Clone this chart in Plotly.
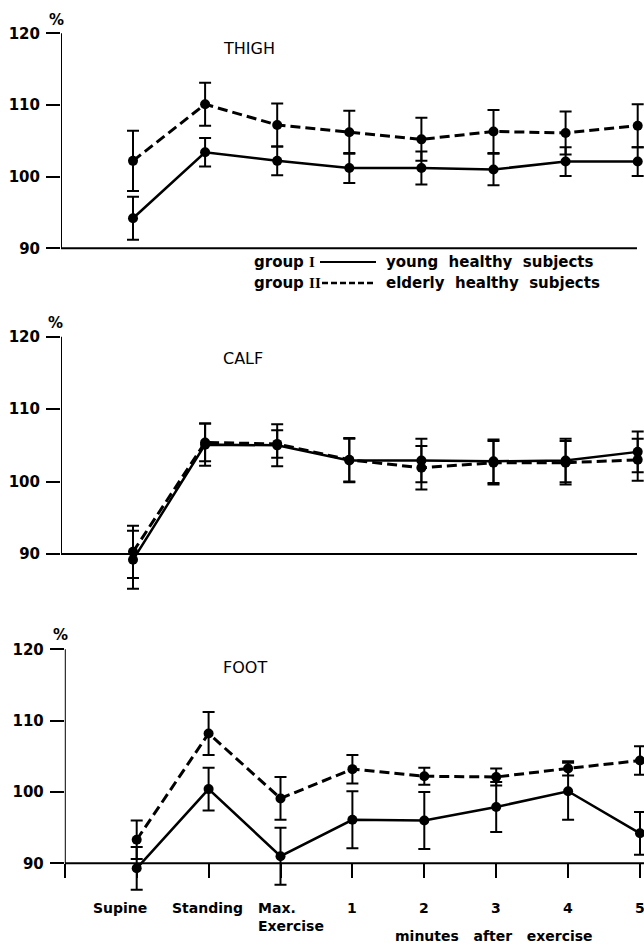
import plotly.graph_objects as go

# ---------------- data ----------------
categories = ["Supine", "Standing", "Max.<br>Exercise", "1", "2", "3", "4", "5"]
cat_index = [0, 1, 2, 3, 4, 5, 6, 7]
y_ticks = [90, 100, 110, 120]
y_ticklabels = ["90", "100", "110", "120"]
panel_titles = ["THIGH", "CALF", "FOOT"]

thigh_young = [94.2, 103.4, 102.2, 101.2, 101.2, 101.0, 102.1, 102.1]
thigh_young_err = [3.0, 2.0, 2.0, 2.1, 2.3, 2.2, 2.0, 2.0]
thigh_elderly = [102.2, 110.1, 107.2, 106.2, 105.2, 106.3, 106.1, 107.1]
thigh_elderly_err = [4.2, 3.0, 3.0, 3.0, 3.0, 3.0, 3.0, 3.0]

calf_young = [89.2, 105.1, 105.0, 102.9, 102.9, 102.8, 102.9, 104.1]
calf_young_err = [4.0, 2.9, 2.9, 3.0, 3.0, 3.0, 3.0, 2.8]
calf_elderly = [90.3, 105.4, 105.2, 103.0, 101.9, 102.6, 102.6, 103.0]
calf_elderly_err = [3.6, 2.6, 1.9, 3.0, 3.0, 3.0, 3.0, 2.9]

foot_young = [89.3, 100.4, 91.0, 96.1, 96.0, 97.9, 100.1, 94.2]
foot_young_err = [3.0, 3.0, 4.0, 4.0, 4.0, 3.5, 4.0, 3.0]
foot_elderly = [93.3, 108.2, 99.1, 103.2, 102.2, 102.1, 103.3, 104.4]
foot_elderly_err = [2.7, 3.0, 3.0, 2.0, 1.2, 1.2, 1.0, 2.0]

series = [
    (thigh_young, thigh_young_err, thigh_elderly, thigh_elderly_err),
    (calf_young, calf_young_err, calf_elderly, calf_elderly_err),
    (foot_young, foot_young_err, foot_elderly, foot_elderly_err),
]

# ---------------- layout geometry (page pixels) ----------------
W, H = 644, 946
FONT = "DejaVu Sans"
p120 = [33.3, 336.7, 649.3]
p90 = [248.3, 554.0, 863.3]
x_axis_px = [61.0, 61.0, 64.8]
cat0_px = [133.0, 133.0, 136.7]
cat_step = [72.1, 72.1, 71.9]
YLO, YHI = 83, 121


def fx(px):
    return px / W


def fy(py):
    return 1 - py / H


def tfont(size, weight="normal"):
    return dict(size=size, family=FONT, color="black", weight=weight)


fig = go.Figure()
layout = dict(
    width=W, height=H, margin=dict(l=0, r=0, t=0, b=0, autoexpand=False),
    paper_bgcolor="white", plot_bgcolor="white", showlegend=False,
    font=dict(family=FONT, color="black", size=15),
)
shapes = []
annotations = []

for p in range(3):
    n = "" if p == 0 else str(p + 1)
    xa, ya = "x" + n, "y" + n
    yg, yg_err, eg, eg_err = series[p]
    fig.add_trace(go.Scatter(
        x=cat_index, y=eg, xaxis=xa, yaxis=ya, mode="lines+markers",
        line=dict(color="black", width=3, dash="10px,5px"),
        marker=dict(color="black", size=10),
        error_y=dict(type="data", array=eg_err, color="black", thickness=2, width=6),
    ))
    fig.add_trace(go.Scatter(
        x=cat_index, y=yg, xaxis=xa, yaxis=ya, mode="lines+markers",
        line=dict(color="black", width=2.5),
        marker=dict(color="black", size=10),
        error_y=dict(type="data", array=yg_err, color="black", thickness=2, width=6),
    ))

    s = (p90[p] - p120[p]) / 30.0
    top_px = p120[p] - (YHI - 120) * s
    bot_px = p90[p] + (90 - YLO) * s
    xr1 = (W - cat0_px[p]) / cat_step[p]
    xr0 = (x_axis_px[p] - cat0_px[p]) / cat_step[p]

    xaxis = dict(domain=[fx(x_axis_px[p]), 1], range=[xr0, xr1], showgrid=False,
                 zeroline=False, showline=False, showticklabels=False, ticks="",
                 fixedrange=True, automargin=False)
    if p == 2:
        xaxis.update(anchor="free", position=fy(p90[p]), ticks="outside",
                     tickvals=[xr0] + cat_index, ticklen=14, tickwidth=2, tickcolor="black")
    else:
        xaxis.update(anchor=ya)
    yaxis = dict(domain=[fy(bot_px), fy(top_px)], range=[YLO, YHI], anchor=xa,
                 showgrid=False, zeroline=False, showline=False,
                 tickvals=y_ticks, ticktext=y_ticklabels, ticks="outside",
                 ticklen=14, tickwidth=2, tickcolor="black", automargin=False,
                 ticklabelstandoff=3, tickfont=tfont(15, "bold"), fixedrange=True)
    layout["xaxis" + n] = xaxis
    layout["yaxis" + n] = yaxis

    # axis lines
    shapes.append(dict(type="line", xref=xa, yref=ya, x0=xr0, x1=xr0, y0=90, y1=120,
                       line=dict(color="black", width=2)))
    x_end = 6.99 if p < 2 else xr1
    shapes.append(dict(type="line", xref=xa, yref=ya, x0=xr0, x1=x_end, y0=90, y1=90,
                       line=dict(color="black", width=2)))
    # % sign
    pct_pos = [(56, 20), (55, 323), (60, 635)][p]
    annotations.append(dict(xref="paper", yref="paper", x=fx(pct_pos[0]),
                            y=fy(pct_pos[1]), text="%", showarrow=False,
                            font=tfont(15, "bold"), xanchor="center", yanchor="middle"))
    # panel title
    title_pos = [(249, 48), (243, 358), (245, 667)][p]
    annotations.append(dict(xref="paper", yref="paper", x=fx(title_pos[0]), y=fy(title_pos[1]),
                            text=panel_titles[p], showarrow=False, font=tfont(16),
                            xanchor="center", yanchor="middle"))

# x category labels on foot panel
label_shift = [-17, -1, 10, 0, 0, 0, 0, 0]
for i, lab in enumerate(categories):
    annotations.append(dict(xref="x3", yref="paper", x=cat_index[i], y=fy(898),
                            text=lab, showarrow=False, xshift=label_shift[i],
                            xanchor="center", yanchor="top", align="left",
                            font=tfont(14, "bold")))
annotations.append(dict(xref="paper", yref="paper", x=fx(494), y=fy(936),
                        text="minutes   after   exercise", showarrow=False,
                        xanchor="center", yanchor="middle", font=tfont(14, "bold")))

# legend (drawn as text + line samples)
serif = "<span style='font-family:Liberation Serif'>"
annotations.append(dict(xref="paper", yref="paper", x=fx(252), y=fy(262),
                        text="group " + serif + "I</span>", showarrow=False,
                        xanchor="left", yanchor="middle", font=tfont(15, "bold")))
annotations.append(dict(xref="paper", yref="paper", x=fx(252), y=fy(283),
                        text="group " + serif + "II</span>", showarrow=False,
                        xanchor="left", yanchor="middle", font=tfont(15, "bold")))
annotations.append(dict(xref="paper", yref="paper", x=fx(384), y=fy(262),
                        text="young  healthy  subjects", showarrow=False,
                        xanchor="left", yanchor="middle", font=tfont(15, "bold")))
annotations.append(dict(xref="paper", yref="paper", x=fx(384), y=fy(283),
                        text="elderly  healthy  subjects", showarrow=False,
                        xanchor="left", yanchor="middle", font=tfont(15, "bold")))
shapes.append(dict(type="line", xref="paper", yref="paper", x0=fx(320), x1=fx(376),
                   y0=fy(262), y1=fy(262), line=dict(color="black", width=2)))
shapes.append(dict(type="line", xref="paper", yref="paper", x0=fx(322), x1=fx(376),
                   y0=fy(283), y1=fy(283), line=dict(color="black", width=2.5, dash="6px,3px")))

layout["shapes"] = shapes
layout["annotations"] = annotations
fig.update_layout(**layout)
fig.write_html(
    "out.html",
    config={"displayModeBar": False, "staticPlot": True},
    post_script="document.body.style.margin='0px';document.body.style.overflow='hidden';",
)
